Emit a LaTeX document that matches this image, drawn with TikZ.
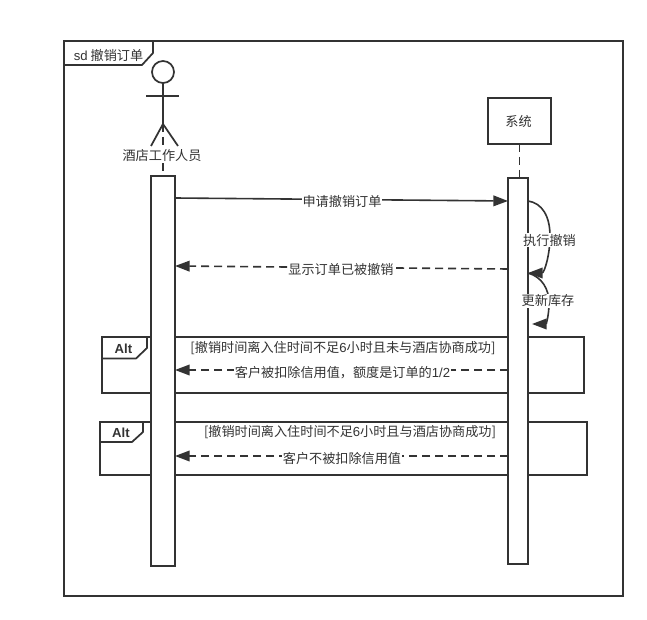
\documentclass[tikz,border=0pt]{standalone}
\usepackage{fontspec}
\setmainfont{Noto Sans CJK SC}
\newfontfamily\lat{Liberation Sans}
\usetikzlibrary{arrows.meta,calc}
\definecolor{ink}{HTML}{333333}
\tikzset{
  x=0.75pt,y=-0.75pt,
  ln/.style={draw=ink,line width=1.1pt},
  heavy/.style={draw=ink,line width=1.3pt},
  lifeline/.style={draw=ink,line width=1.1pt,dash pattern=on 6pt off 3.75pt},
  actbox/.style={draw=ink,fill=white,line width=1.2pt,inner sep=0,outer sep=0,minimum height=#1},
  msg/.style={draw=ink,line width=1.2pt,-{Triangle[length=11pt,width=8pt,color=ink]}},
  ret/.style={msg,dash pattern=on 6pt off 3.75pt},
  txt/.style={text=ink,font=\fontsize{9.85pt}{11pt}\selectfont,inner sep=0.5pt,fill=white},
  tag/.style={text=ink,font=\fontsize{9.85pt}{11pt}\selectfont,inner sep=0},
}
\begin{document}
\begin{tikzpicture}
\useasboundingbox[fill=white] (0,0) rectangle (647,620);
% frame
\node[heavy,fill=white,inner sep=0,outer sep=0,minimum width=419.25pt,minimum height=416.25pt] (frame) at (343.5,318.5) {};
\draw[heavy] (frame.north west) ++(89,0) coordinate (f1) -- ++(0,12) -- ++(-11,12) -- ($(frame.north west)+(0,24)$);
\node[tag] (ftitle) at (108.5,55.5) {{\lat sd} 撤销订单};
% alt fragments
\node[heavy,inner sep=0,outer sep=0,minimum width=361.5pt,minimum height=42pt] (alt1) at (343,365) {};
\draw[heavy] (alt1.north west) ++(45,0) -- ++(0,11) -- ++(-11,10.5) -- ($(alt1.north west)+(0,21.5)$);
\node[tag,font=\fontsize{9.85pt}{11pt}\selectfont\lat\bfseries] (alt1t) at (123.5,349) {Alt};
\node[heavy,inner sep=0,outer sep=0,minimum width=365.25pt,minimum height=39.75pt] (alt2) at (343.5,448.5) {};
\draw[heavy] (alt2.north west) ++(43,0) -- ++(0,10) -- ++(-11,10) -- ($(alt2.north west)+(0,20)$);
\node[tag,font=\fontsize{9.85pt}{11pt}\selectfont\lat\bfseries] (alt2t) at (121,433) {Alt};
% actor
\node[heavy,circle,fill=white,inner sep=0,outer sep=0,minimum size=16.5pt] (head) at (163,72) {};
\coordinate (hip) at (163,124);
\coordinate (armL) at (146,96);
\coordinate (armR) at (179,96);
\coordinate (legL) at (151,146);
\coordinate (legR) at (178,146);
\draw[heavy] (head.south) -- (hip);
\draw[heavy] (armL) -- (armR);
\draw[heavy] (legL) -- (hip) -- (legR);
% system
\node[heavy,fill=white,inner sep=0,outer sep=0,minimum width=47.25pt,minimum height=34.5pt] (sys) at (519.5,121) {};
% activations
\node[actbox=292.5pt,minimum width=18pt] (act1) at (163,371) {};
\node[actbox=289.5pt,minimum width=15pt] (act2) at (518,371) {};
\draw[lifeline] (hip) -- (act1.north);
\draw[lifeline] (sys.south) -- (sys.south |- act2.north);
\node[tag] (sysl) at (518.5,121) {系统};
% messages
\coordinate (m1a) at (175,198);
\coordinate (m1b) at (508,201);
\draw[msg] (act1.east |- m1a) -- (act2.west |- m1b);
\draw[ret] (act2.west |- 0,269) -- (act1.east |- 0,266);
\draw[ret] (act2.west |- 0,370) -- (act1.east |- 0,370);
\draw[ret] (act2.west |- 0,456) -- (act1.east |- 0,456);
% self messages
\coordinate (s1) at (528,201);
\coordinate (s1m) at (550,236);
\coordinate (s2) at (528,273);
\coordinate (s2m) at (549,303);
\coordinate (s3) at (532,324);
\draw[msg] (s1) .. controls (542,203) and (550,216) .. (s1m) .. controls (550,256) and (544,273) .. (s2);
\draw[msg] (s2) .. controls (542,277) and (549,289) .. (s2m) .. controls (549,316) and (546,324) .. (s3);
% labels
\node[txt] (actorl) at (162,156) {酒店工作人员};
\node[txt] (l1) at (342,201) {申请撤销订单};
\node[txt] (l2) at (341,269) {显示订单已被撤销};
\node[txt] (l3) at (549.5,240) {执行撤销};
\node[txt] (l4) at (548,301) {更新库存};
\node[txt] (l5) at (343,348.5) {[撤销时间离入住时间不足{\lat 6}小时且未与酒店协商成功]};
\node[txt] (l6) at (342.5,373) {客户被扣除信用值，额度是订单的{\lat 1/2}};
\node[txt] (l7) at (350,432) {[撤销时间离入住时间不足{\lat 6}小时且与酒店协商成功]};
\node[txt] (l8) at (342,458) {客户不被扣除信用值};
\end{tikzpicture}
\end{document}
